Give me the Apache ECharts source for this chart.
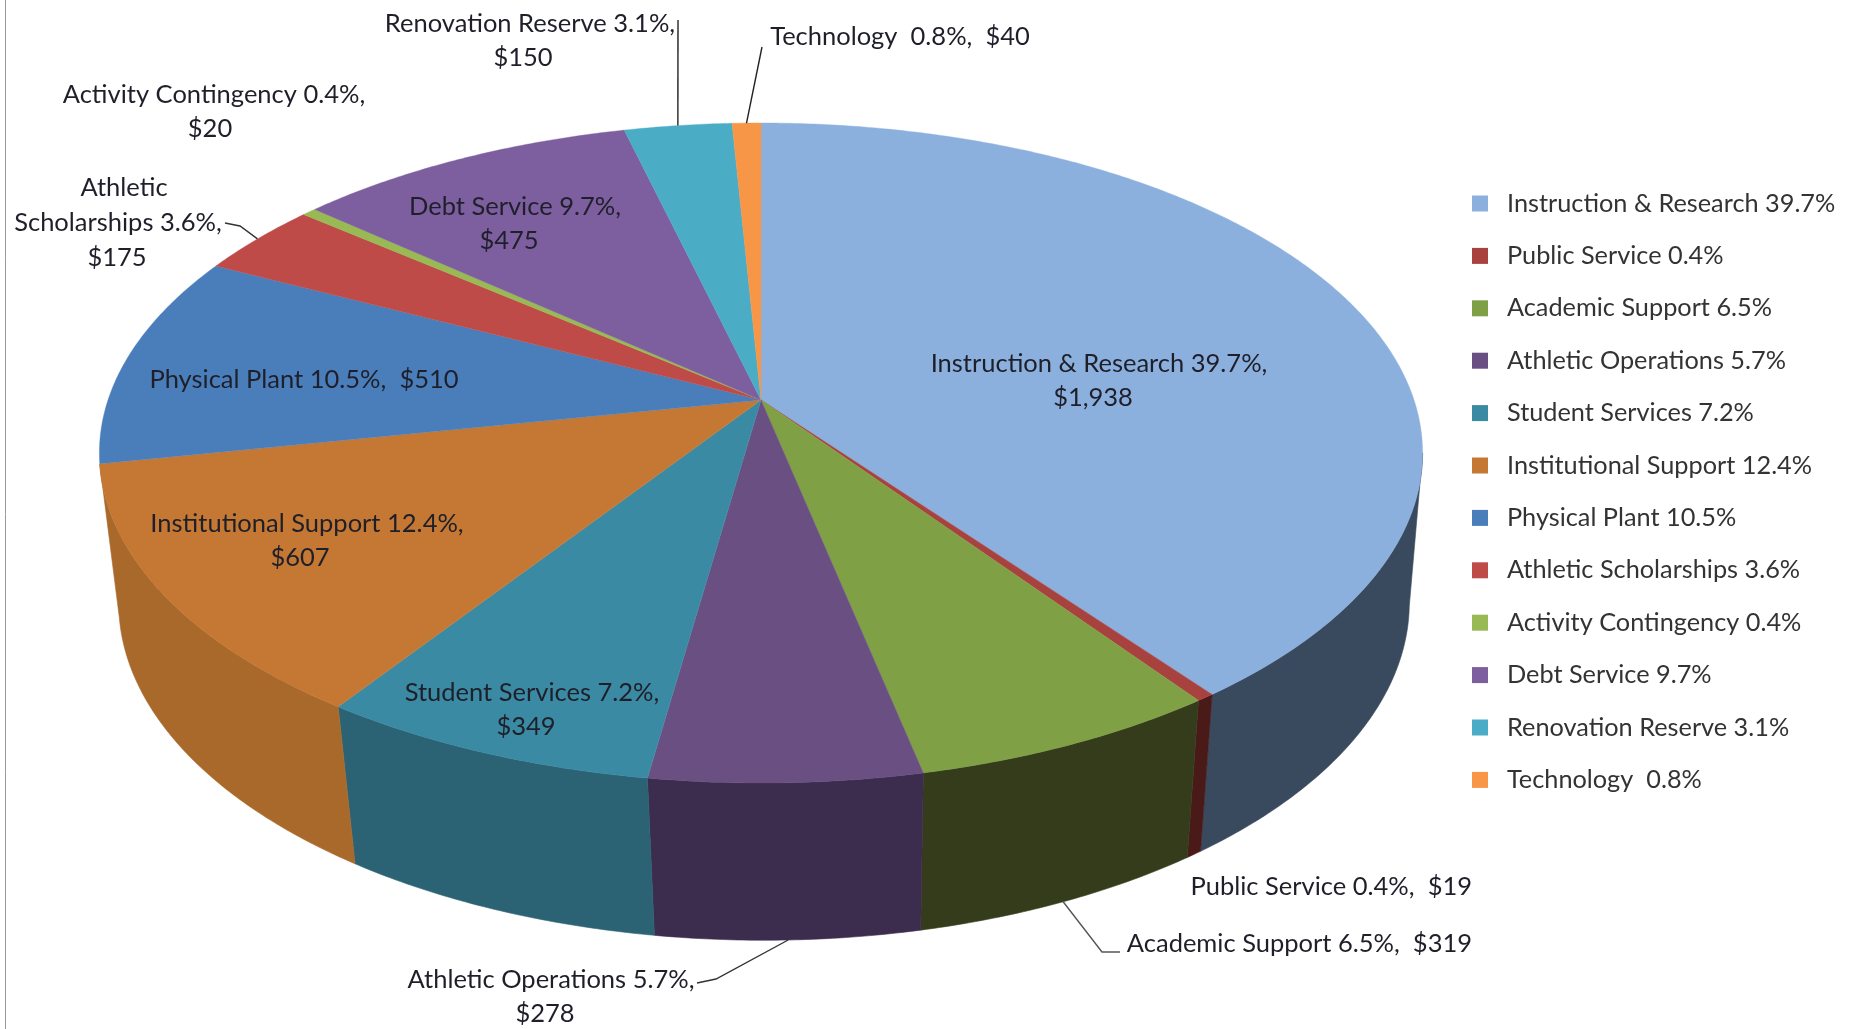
<!DOCTYPE html>
<html><head><meta charset="utf-8">
<style>html,body{margin:0;padding:0;background:#fff}#c{width:1858px;height:1029px}</style>
<script src="https://cdn.jsdelivr.net/npm/echarts@6/dist/echarts.min.js"></script>
</head><body><div id="c"></div>
<script>
// ---------- data ----------
const categories = ['Instruction & Research','Public Service','Academic Support','Athletic Operations','Student Services','Institutional Support','Physical Plant','Athletic Scholarships','Activity Contingency','Debt Service','Renovation Reserve','Technology '];
const percents = ['39.7%','0.4%','6.5%','5.7%','7.2%','12.4%','10.5%','3.6%','0.4%','9.7%','3.1%','0.8%'];
const amounts = [1938,19,319,278,349,607,510,175,20,475,150,40];
const labelLines = [
  ['Instruction & Research 39.7%,','$1,938'],
  ['Public Service 0.4%,  $19'],
  ['Academic Support 6.5%,  $319'],
  ['Athletic Operations 5.7%,','$278'],
  ['Student Services 7.2%,','$349'],
  ['Institutional Support 12.4%,','$607'],
  ['Physical Plant 10.5%,  $510'],
  ['Athletic','Scholarships 3.6%,','$175'],
  ['Activity Contingency 0.4%,','$20'],
  ['Debt Service 9.7%,','$475'],
  ['Renovation Reserve 3.1%,','$150'],
  ['Technology  0.8%,  $40']
];
// ---------- styling / layout ----------
const topColors  = ['#8CB0DE','#A8423F','#80A045','#6A5082','#3B8AA3','#C57833','#4A7EBB','#BE4B48','#98B954','#7D5FA0','#4BACC6','#F79646'];
const wallColors = ['#3A4A5E','#4A1A18','#343C1C','#3C2C4E','#2B6375','#A8692B','#2E4F75','#7A2F2D','#5F7434','#4E3B64','#2F6B7C','#9C5E2B'];
const labelPos = [
  [[1099,364],[1093,398]],
  [[1472,887,'right']],
  [[1472,944,'right']],
  [[551,980],[545,1014]],
  [[532,693],[526,727]],
  [[307,524],[300,558]],
  [[304,380]],
  [[124,188],[118,223],[117,258]],
  [[214,95],[210,129]],
  [[515,207],[509,241]],
  [[530,24],[523,58]],
  [[900,37]]
];
// leader lines: elbow points; the last point is computed from the slice
const leaders = {
  2:{pts:[[1120,952],[1102,952]],wall:true,color:'#555'},
  3:{pts:[[697,983],[716,979]],wall:true,color:'#333'},
  7:{pts:[[225,223],[240,226]],wall:false,color:'#333'},
  10:{pts:[[678,20]],wall:false,color:'#222'},
  11:{pts:[[762,47]],wall:false,color:'#222'}
};
const FONT = '25.5px Lato, sans-serif';
const TOP = {x:761, y:400, a:653, h:321.5, p:0.1606};
const BOT = {x:764, y:552, a:638, h:330, p:0.15};
// the side wall is only seen on the front arc between the ellipse's widest points
const ARC0 = Math.acos(-TOP.p), ARC1 = 2*Math.PI-Math.acos(-0.193);

const total = amounts.reduce((a,b)=>a+b,0);
const starts = []; amounts.reduce((acc,v,i)=>{starts[i]=acc;return acc+v;},0);
function proj(ang, bottom){
  const s=bottom?BOT:TOP;
  const u=Math.sin(ang), v=Math.cos(ang), w=1+s.p*v;
  return [s.x+s.a*u/w, s.y-s.h*v/w];
}
function arc(a0,a1,bottom){
  const n = Math.max(2, Math.ceil((a1-a0)/(Math.PI/360))), pts=[];
  for(let k=0;k<=n;k++) pts.push(proj(a0+(a1-a0)*k/n,bottom));
  return pts;
}
function renderSlice(i){
  return function(params, api){
    const val = api.value(0);
    const a0 = starts[i]/total*2*Math.PI, a1 = (starts[i]+val)/total*2*Math.PI;
    const mid=(a0+a1)/2;
    const ch=[];
    const w0=Math.max(a0,ARC0), w1=Math.min(a1,ARC1);
    if(w1>w0){
      ch.push({type:'polygon',z2:1,shape:{points:arc(w0,w1,false).concat(arc(w0,w1,true).reverse())},style:{fill:wallColors[i],stroke:wallColors[i],lineWidth:0.6}});
    }
    ch.push({type:'polygon',z2:2,shape:{points:[[TOP.x,TOP.y]].concat(arc(a0,a1,false))},style:{fill:topColors[i],stroke:topColors[i],lineWidth:0.4}});
    const L=leaders[i];
    if(L){
      ch.push({type:'polyline',z2:3,shape:{points:L.pts.concat([proj(mid,L.wall)])},style:{fill:null,stroke:L.color,lineWidth:1.4}});
    }
    labelLines[i].forEach((t,k)=>{
      const p=labelPos[i][k];
      ch.push({type:'text',z2:4,style:{text:t,x:p[0],y:p[1],textAlign:p[2]||'center',textVerticalAlign:'middle',font:FONT,fill:'#1f1f2a'}});
    });
    return {type:'group',children:ch};
  };
}
const series = categories.map((c,i)=>({
  type:'custom', name:c+' '+percents[i], coordinateSystem:'none',
  renderItem:renderSlice(i), data:[[amounts[i]]], silent:true,
  itemStyle:{color:topColors[i]}, clip:false
}));
const chart = echarts.init(document.getElementById('c'),null,{renderer:'canvas'});
chart.setOption({
  animation:false, backgroundColor:'#fff',
  legend:{
    orient:'vertical', left:1467, top:183.5, icon:'rect', itemWidth:16, itemHeight:16,
    itemGap:22.4, selectedMode:false,
    textStyle:{fontFamily:'Lato',fontSize:25.3,color:'#333',lineHeight:30,padding:[0,0,0,14]},
    data:series.map(s=>s.name)
  },
  graphic:[{type:'line',shape:{x1:5.5,y1:0,x2:5.5,y2:1029},style:{stroke:'#9a9a9a',lineWidth:1}}],
  series
});
</script></body></html>
